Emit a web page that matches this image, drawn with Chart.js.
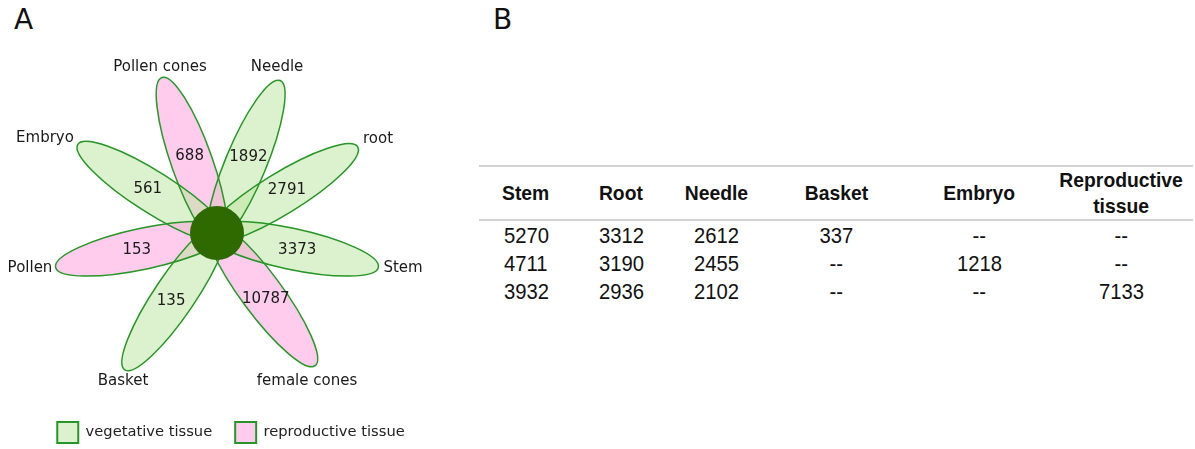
<!DOCTYPE html>
<html>
<head>
<meta charset="utf-8">
<script src="https://cdn.jsdelivr.net/npm/chart.js@4/dist/chart.umd.min.js"></script>
<style>
  html, body { margin: 0; padding: 0; background: #fff; width: 1195px; height: 449px; overflow: hidden; }
  #wrapA { position: absolute; left: 0; top: 0; width: 462px; height: 453px; }
  .plabel { position: absolute; font-family: "DejaVu Sans", sans-serif; font-size: 28px; line-height: 28px; color: #111; }
  #tbl { position: absolute; left: 479px; top: 165px; width: 714px; border-collapse: collapse; table-layout: fixed;
         font-family: "Liberation Sans Narrow", "Liberation Sans", sans-serif; color: #111; }
  #tbl th { font-weight: bold; font-size: 21px; line-height: 26px; height: 50px; padding: 0; text-align: center; vertical-align: middle; }
  #tbl thead tr { border-top: 2px solid #d3d3d3; border-bottom: 2px solid #d3d3d3; }
  #tbl td { font-size: 22px; line-height: 28px; height: 28px; padding: 0; text-align: center; }
  #tbl tbody tr:first-child td { padding-top: 1px; }
  #tbl span { display: inline-block; transform: scaleX(0.92); transform-origin: center; }
</style>
</head>
<body>
<div class="plabel" style="left:14px; top:6px;">A</div>
<div class="plabel" style="left:493px; top:6px;">B</div>
<div id="wrapA"><canvas id="flower"></canvas></div>
<table id="tbl"><colgroup id="cols"></colgroup><thead><tr id="hdr"></tr></thead><tbody id="body"></tbody></table>
<script>
// ---------- data ----------
const petalNames   = ['Stem', 'root', 'Needle', 'Pollen cones', 'Embryo', 'Pollen', 'Basket', 'female cones'];
const petalCounts  = [3373, 2791, 1892, 688, 561, 153, 135, 10787];
const petalTissue  = ['vegetative', 'vegetative', 'vegetative', 'reproductive', 'vegetative', 'reproductive', 'vegetative', 'reproductive'];
const tissueTypes  = ['vegetative', 'reproductive'];
const tissueLabels = ['vegetative tissue', 'reproductive tissue'];

const tableColumns = ['Stem', 'Root', 'Needle', 'Basket', 'Embryo', 'Reproductive<br>tissue'];
const tableRow1 = ['5270', '3312', '2612', '337', '--', '--'];
const tableRow2 = ['4711', '3190', '2455', '--', '1218', '--'];
const tableRow3 = ['3932', '2936', '2102', '--', '--', '7133'];

// ---------- layout (not data) ----------
const petalAngles = [-12, 31.5, 67.5, 109.5, 147.5, 192, 236, 306.5];          // degrees, counter-clockwise
const nameAnchors = [[186, -35], [161, 94], [60, 166], [-57, 166], [-172, 95], [-187, -35], [-94, -148], [90, -148]];
const PETAL_DIST = 75, PETAL_A = 90, PETAL_B = 20.5, LABEL_DIST = 82, CORE_R = 27;
const colWidths = [94, 96, 94, 146, 140, 144];
const tissueStyle = {
  vegetative:   { fill: 'rgba(191,230,164,0.55)', stroke: 'rgb(38,150,38)' },
  reproductive: { fill: 'rgba(255,162,224,0.55)', stroke: 'rgb(38,150,38)' }
};

// ---------- table ----------
document.getElementById('cols').innerHTML = colWidths.map(w => `<col style="width:${w}px">`).join('');
document.getElementById('hdr').innerHTML = tableColumns.map(c => `<th><span>${c}</span></th>`).join('');
document.getElementById('body').innerHTML = [tableRow1, tableRow2, tableRow3]
  .map(r => '<tr>' + r.map(v => `<td><span>${v}</span></td>`).join('') + '</tr>').join('');

// ---------- flower chart ----------
const rad = d => d * Math.PI / 180;
const datasets = tissueTypes.map((t, k) => ({
  label: tissueLabels[k],
  data: petalNames.map((n, i) => ({ i })).filter(p => petalTissue[p.i] === t)
        .map(p => ({ x: PETAL_DIST * Math.cos(rad(petalAngles[p.i])), y: PETAL_DIST * Math.sin(rad(petalAngles[p.i])), idx: p.i })),
  backgroundColor: tissueStyle[t].fill,
  borderColor: tissueStyle[t].stroke,
  borderWidth: 2,
  pointRadius: 0,
  pointHoverRadius: 0
}));

const flowerPlugin = {
  id: 'flower',
  afterDatasetsDraw(chart) {
    const ctx = chart.ctx, xs = chart.scales.x, ys = chart.scales.y;
    const kx = Math.abs(xs.getPixelForValue(1) - xs.getPixelForValue(0));
    const ky = Math.abs(ys.getPixelForValue(1) - ys.getPixelForValue(0));
    const petals = [];
    chart.data.datasets.forEach((ds, di) => {
      chart.getDatasetMeta(di).data.forEach((el, j) => { petals[ds.data[j].idx] = { el, ds }; });
    });
    ctx.save();
    petals.forEach((p, i) => {
      ctx.beginPath();
      ctx.ellipse(p.el.x, p.el.y, PETAL_A * kx, PETAL_B * ky, -rad(petalAngles[i]), 0, Math.PI * 2);
      ctx.fillStyle = p.ds.backgroundColor;
      ctx.fill();
    });
    petals.forEach((p, i) => {
      ctx.beginPath();
      ctx.ellipse(p.el.x, p.el.y, PETAL_A * kx, PETAL_B * ky, -rad(petalAngles[i]), 0, Math.PI * 2);
      ctx.strokeStyle = p.ds.borderColor;
      ctx.lineWidth = 1.5;
      ctx.stroke();
    });
    const cx = xs.getPixelForValue(0), cy = ys.getPixelForValue(0);
    ctx.beginPath();
    ctx.arc(cx, cy, CORE_R * kx, 0, Math.PI * 2);
    ctx.fillStyle = '#2f6a00';
    ctx.fill();
    ctx.fillStyle = '#1a1a1a';
    ctx.font = '15px "DejaVu Sans"';
    ctx.textAlign = 'center';
    ctx.textBaseline = 'middle';
    petals.forEach((p, i) => {
      const a = rad(petalAngles[i]);
      ctx.fillText(String(petalCounts[i]),
        xs.getPixelForValue(LABEL_DIST * Math.cos(a)), ys.getPixelForValue(LABEL_DIST * Math.sin(a)));
      ctx.fillText(petalNames[i], xs.getPixelForValue(nameAnchors[i][0]), ys.getPixelForValue(nameAnchors[i][1]));
    });
    ctx.restore();
  }
};

new Chart(document.getElementById('flower'), {
  type: 'scatter',
  data: { datasets },
  options: {
    responsive: true,
    maintainAspectRatio: false,
    animation: false,
    layout: { padding: 0 },
    scales: {
      x: { type: 'linear', display: false, min: -217, max: 245 },
      y: { type: 'linear', display: false, min: -166, max: 233 }
    },
    plugins: {
      tooltip: { enabled: false },
      legend: {
        position: 'bottom',
        labels: {
          boxWidth: 21, boxHeight: 21, padding: 23,
          color: '#222',
          font: { family: 'DejaVu Sans', size: 14.7 }
        }
      }
    }
  },
  plugins: [flowerPlugin]
});
</script>
</body>
</html>
